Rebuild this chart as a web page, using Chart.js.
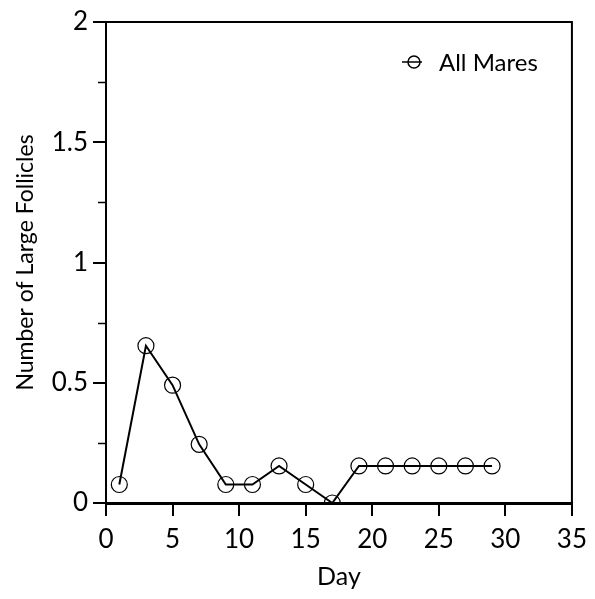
<!DOCTYPE html>
<html lang="en">
<head>
<meta charset="UTF-8">
<title>Large Follicles</title>
<script src="https://cdn.jsdelivr.net/npm/chart.js@4"></script>
<style>
  body { margin: 0; background: #fff; }
  #box { width: 595px; height: 599px; }
</style>
</head>
<body>
<div id="box"><canvas id="grafico"></canvas></div>
<script>
    // dias e numero medio de foliculos grandes
    var dias = [1, 3, 5, 7, 9, 11, 13, 15, 17, 19, 21, 23, 25, 27, 29]
    var foliculos = [0.077, 0.654, 0.49, 0.244, 0.077, 0.077, 0.154, 0.077, 0, 0.154, 0.154, 0.154, 0.154, 0.154, 0.154]
    var serie = 'All Mares'
    var tituloX = 'Day'
    var tituloY = 'Number of Large Follicles'
    // ticks pequenos do eixo y, sem rotulo
    var ticksMenoresY = [0.25, 0.75, 1.25, 1.75]

    var fonte = 'Lato, "Open Sans", sans-serif'

    // moldura de cima e da direita + ticks menores
    const moldura = {
        id: 'moldura',
        afterDraw(chart) {
            const ctx = chart.ctx
            const a = chart.chartArea
            const y = chart.scales.y
            ctx.save()
            ctx.strokeStyle = '#000'
            ctx.lineWidth = 2
            ctx.beginPath()
            ctx.moveTo(a.left, a.top)
            ctx.lineTo(a.right, a.top)
            ctx.lineTo(a.right, a.bottom)
            ctx.stroke()
            ctx.lineWidth = 1.5
            ticksMenoresY.forEach(function (v) {
                const py = Math.round(y.getPixelForValue(v)) + 0.5
                ctx.beginPath()
                ctx.moveTo(a.left - 8, py)
                ctx.lineTo(a.left, py)
                ctx.stroke()
            })
            ctx.restore()
        }
    }

    // legenda dentro do grafico: linha com circulo
    const legenda = {
        id: 'legenda',
        afterDraw(chart) {
            const ctx = chart.ctx
            ctx.save()
            ctx.strokeStyle = '#000'
            ctx.lineWidth = 1.5
            ctx.beginPath()
            ctx.moveTo(402, 62)
            ctx.lineTo(422, 62)
            ctx.stroke()
            ctx.beginPath()
            ctx.arc(414, 62, 6, 0, Math.PI * 2)
            ctx.stroke()
            ctx.fillStyle = '#000'
            ctx.font = '24px ' + fonte
            ctx.textBaseline = 'middle'
            ctx.fillText(serie, 439, 63)
            ctx.restore()
        }
    }

    const data = {
        labels: dias,
        datasets: [{
            label: serie,
            data: dias.map(function (d, i) { return { x: d, y: foliculos[i] } }),
            borderColor: '#000',
            borderWidth: 2,
            pointRadius: 8,
            pointBorderWidth: 1.2,
            pointBorderColor: '#000',
            pointBackgroundColor: 'rgba(0,0,0,0)',
            tension: 0
        }]
    }

    const config = {
        type: 'line',
        data: data,
        options: {
            responsive: true,
            maintainAspectRatio: false,
            animation: false,
            layout: { padding: { top: 22, right: 22, left: 0, bottom: 0 } },
            plugins: {
                legend: { display: false },
                tooltip: { enabled: false }
            },
            scales: {
                x: {
                    type: 'linear',
                    min: 0,
                    max: 35,
                    afterFit: function (s) { s.height = 96 },
                    border: { display: true, color: '#000', width: 3 },
                    grid: { drawOnChartArea: false, drawTicks: true, tickLength: 13, color: '#000', lineWidth: 2 },
                    ticks: { stepSize: 5, color: '#000', padding: 8, font: { family: fonte, size: 26 } },
                    title: { display: true, text: tituloX, color: '#000', padding: { top: 0, bottom: 7 }, font: { family: fonte, size: 25 } }
                },
                y: {
                    min: 0,
                    max: 2,
                    afterFit: function (s) { s.width = 106 },
                    border: { display: true, color: '#000', width: 2 },
                    grid: { drawOnChartArea: false, drawTicks: true, tickLength: 13, color: '#000', lineWidth: 2 },
                    ticks: {
                        stepSize: 0.5, color: '#000', padding: 5, font: { family: fonte, size: 26 },
                        callback: function (v) { return String(v) }
                    },
                    title: { display: true, text: tituloY, color: '#000', padding: { top: 12, bottom: 0 }, font: { family: fonte, size: 23 } }
                }
            }
        },
        plugins: [moldura, legenda]
    }

    const grafico = new Chart(document.getElementById('grafico'), config)
</script>
</body>
</html>
